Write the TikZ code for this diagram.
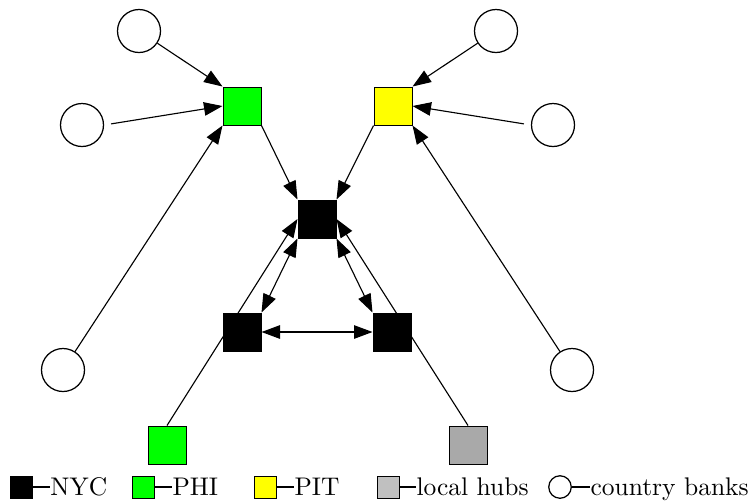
\documentclass[tikz,border=0pt]{standalone}
\usetikzlibrary{arrows.meta}
\pgfdeclarelayer{background}
\pgfsetlayers{background,main}
\definecolor{phigreen}{HTML}{00FF00}
\definecolor{pityellow}{HTML}{FFFF00}
\definecolor{hubgray}{HTML}{A9A9A9}
\definecolor{legendgray}{HTML}{C0C0C0}
\begin{document}
\begin{tikzpicture}[x=0.4pt,y=-0.4pt,
  box/.style={draw, minimum size=15.2pt, inner sep=0pt, line width=0.4pt},
  bank/.style={draw, circle, minimum size=17.2pt, inner sep=0pt, line width=0.5pt},
  lbox/.style={draw, minimum size=8.8pt, inner sep=0pt, line width=0.4pt},
  lbank/.style={draw, circle, minimum size=9pt, inner sep=0pt, line width=0.5pt},
  ltext/.style={inner sep=0pt, anchor=base west, font=\fontsize{10.2}{12}\selectfont},
  tip/.tip={Triangle[length=7.4pt,width=5.4pt]},
  link/.style={line width=0.45pt, -tip},
  blink/.style={line width=0.45pt, tip-tip},
  plain/.style={line width=0.5pt}]
\useasboundingbox (0,0) rectangle (751,501);

% banks
\node[bank] (tl) at (139,31) {};
\node[bank] (ml) at (82,125) {};
\node[bank] (bl) at (63,370) {};
\node[bank] (tr) at (496,31) {};
\node[bank] (mr) at (553,125) {};
\node[bank] (br) at (572,370) {};

% hubs
\node[box, fill=phigreen] (phi) at (242,106) {};
\node[box, fill=pityellow] (pit) at (393,106) {};
\node[box, fill=black] (nyc) at (317,219) {};
\node[box, fill=black] (nycl) at (242,332) {};
\node[box, fill=black] (nycr) at (392,332) {};
\node[box, fill=phigreen] (lphi) at (167,445) {};
\node[box, fill=hubgray] (lgray) at (468,445) {};

\begin{pgfonlayer}{background}
\draw[link] (tl) -- (phi.north west);
\draw[link, shorten <=2.8pt] (ml.east) -- (phi.west);
\draw[link] (bl) -- (phi.south west);
\draw[link] (tr) -- (pit.north east);
\draw[link, shorten <=2.8pt] (mr.west) -- (pit.east);
\draw[link] (br) -- (pit.south east);
\draw[link] (phi.south east) -- (nyc.north west);
\draw[link] (pit.south west) -- (nyc.north east);
\draw[link] (lphi.north) -- (nyc.west);
\draw[link] (lgray.north) -- (nyc.east);
\draw[blink] (nycl.north east) -- (nyc.south west);
\draw[blink] (nycr.north west) -- (nyc.south east);
\draw[blink] (nycl.east) -- (nycr.west);
\end{pgfonlayer}

% legend
\node[lbox, fill=black] (lg1) at (21,487) {};
\node[ltext] (lt1) at (50,495) {NYC};
\draw[plain] (lg1.east) -- (lg1.east -| lt1.west);
\node[lbox, fill=phigreen] (lg2) at (143,487) {};
\node[ltext] (lt2) at (172,495) {PHI};
\draw[plain] (lg2.east) -- (lg2.east -| lt2.west);
\node[lbox, fill=pityellow] (lg3) at (265,487) {};
\node[ltext] (lt3) at (294,495) {PIT};
\draw[plain] (lg3.east) -- (lg3.east -| lt3.west);
\node[lbox, fill=legendgray] (lg4) at (388,487) {};
\node[ltext] (lt4) at (416,495) {local hubs};
\draw[plain] (lg4.east) -- (lg4.east -| lt4.west);
\node[lbank] (lg5) at (560,487) {};
\node[ltext] (lt5) at (590,495) {country banks};
\draw[plain] (lg5.east) -- (lg5.east -| lt5.west);
\end{tikzpicture}
\end{document}
